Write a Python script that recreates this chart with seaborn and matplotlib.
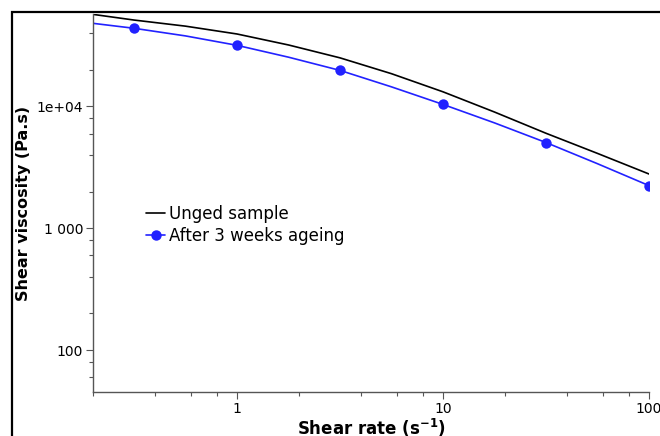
import matplotlib
matplotlib.use("Agg")
import matplotlib.pyplot as plt
import matplotlib.ticker as mticker
from matplotlib.patches import Rectangle
import pandas as pd
import seaborn as sns

# shear rate (1/s) and viscosity (Pa.s)
shear_rate = [0.2, 0.316, 0.562, 1, 1.78, 3.16, 5.62, 10, 17.8, 31.6, 56.2, 100]
unaged = [57100, 51300, 45700, 39400, 32000, 25100, 18600, 13200, 9000, 6030, 4120, 2790]
aged = [48200, 43900, 38000, 31800, 25400, 19800, 14500, 10400, 7330, 5060, 3390, 2240]
marker_idx = [1, 3, 5, 7, 9, 11]

y_ticks = [100, 1000, 10000]
y_labels = ["100", "1 000", "1e+04"]
x_ticks = [1, 10, 100]
x_labels = ["1", "10", "100"]

df = pd.DataFrame({"rate": shear_rate, "unaged": unaged, "aged": aged})

sns.set_style("ticks")
plt.rcParams["font.family"] = ["DejaVu Sans"]
plt.rcParams["text.color"] = "black"

fig = plt.figure(figsize=(6.6, 4.36), dpi=100)
ax = fig.add_axes([93 / 660, 44 / 436, (649 - 93) / 660, (392 - 14) / 436])

sns.lineplot(data=df, x="rate", y="unaged", ax=ax, color="black", lw=1.2,
             label="Unged sample")
sns.lineplot(data=df, x="rate", y="aged", ax=ax, color="#2222ff", lw=1.2,
             marker="o", markersize=7.5, markeredgewidth=0, markevery=marker_idx,
             label="After 3 weeks ageing")

ax.set_xscale("log")
ax.set_yscale("log")
ax.set_xlim(0.2, 100)
ax.set_ylim(45.2, 57500)

ax.set_xticks(x_ticks)
ax.set_xticklabels(x_labels)
ax.set_yticks(y_ticks)
ax.set_yticklabels(y_labels)
ax.xaxis.set_minor_locator(mticker.LogLocator(base=10, subs=(2, 4, 6, 8)))
ax.yaxis.set_minor_locator(mticker.LogLocator(base=10, subs=(2, 4, 6, 8)))
ax.xaxis.set_minor_formatter(mticker.NullFormatter())
ax.yaxis.set_minor_formatter(mticker.NullFormatter())
ax.tick_params(which="major", length=5, width=0.8, color="#555555",
               labelsize=10, labelcolor="black", pad=2)
ax.tick_params(which="minor", length=3, width=0.8, color="#555555")

for s in ["top", "right"]:
    ax.spines[s].set_visible(False)
for s in ["left", "bottom"]:
    ax.spines[s].set_color("#555555")
    ax.spines[s].set_linewidth(1)

ax.set_xlabel(r"Shear rate (s$^{\mathbf{-1}}$)", fontsize=12, fontweight="bold",
              labelpad=1, color="black")
ax.set_ylabel("Shear viscosity (Pa.s)", fontsize=11.5, fontweight="bold",
              labelpad=4, color="black")

leg = ax.legend(loc="upper left", bbox_to_anchor=(146 / 660, 1 - 205 / 436),
                bbox_transform=fig.transFigure, frameon=False, fontsize=12,
                borderpad=0, borderaxespad=0, handlelength=1.15,
                handletextpad=0.25, labelspacing=0.25)
for t in leg.get_texts():
    t.set_color("black")

# outer frame, cut off at right and bottom
fig.patches.append(Rectangle((12 / 660, -0.2), 1.2, 1.2 - 12 / 436,
                             transform=fig.transFigure, fill=False,
                             edgecolor="black", lw=1.6))

fig.savefig("out.png", dpi=100)
